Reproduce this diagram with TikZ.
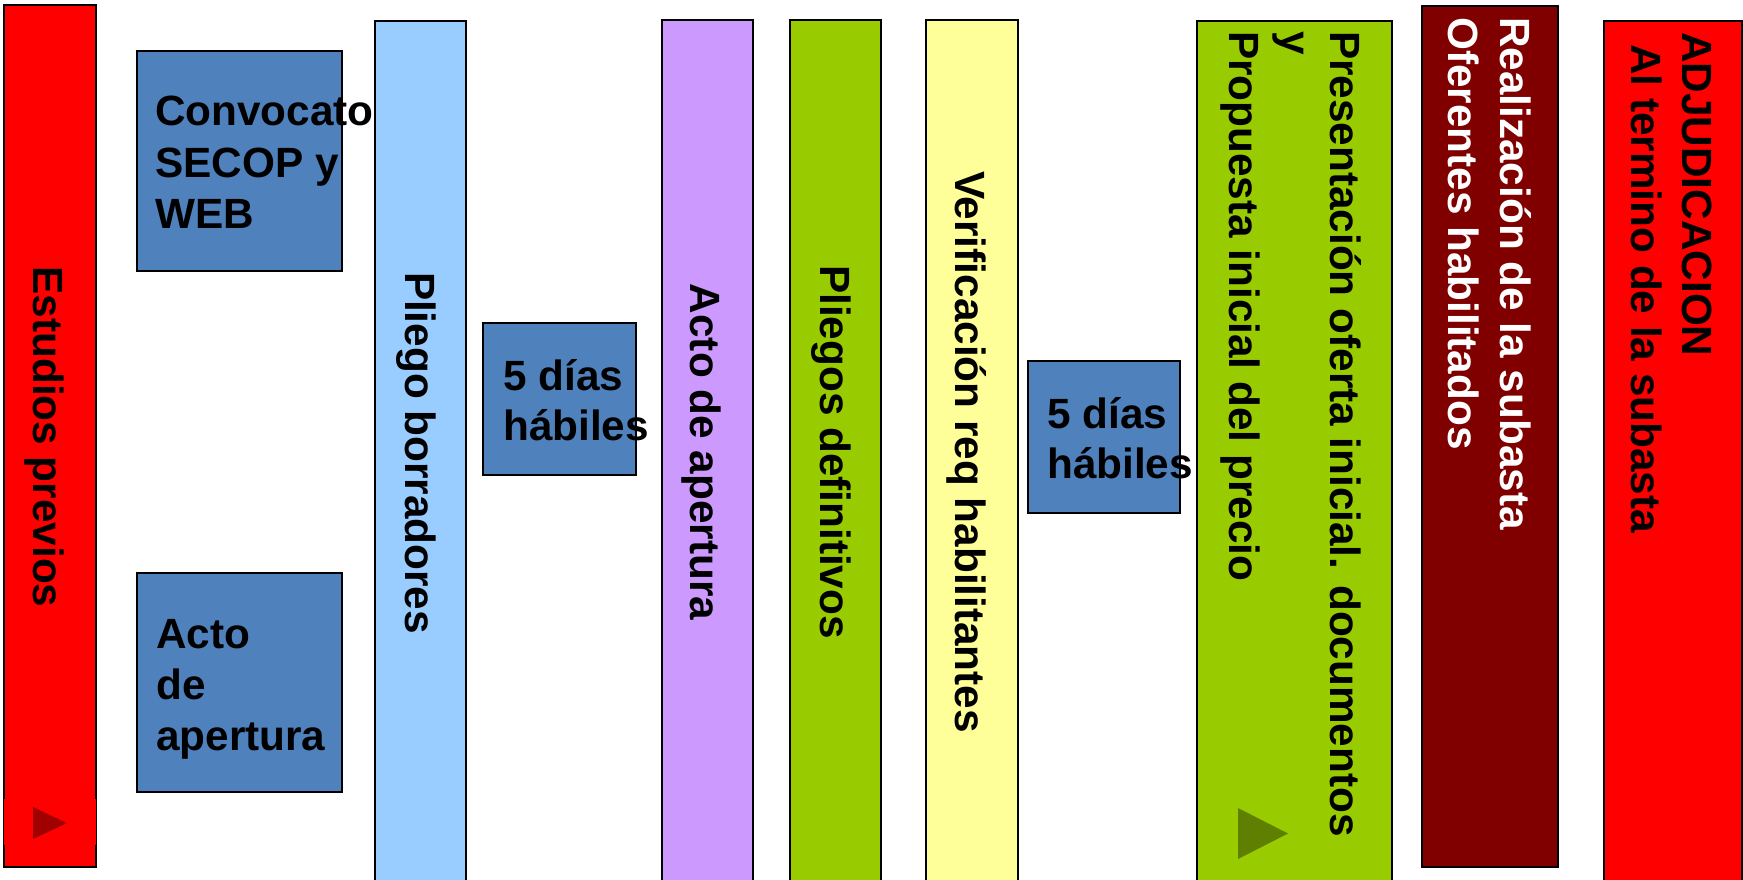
\documentclass[tikz,border=0pt]{standalone}
\usepackage{fontspec}
\setmainfont{Liberation Sans}
\definecolor{stageRed}{HTML}{FF0000}
\definecolor{stageBlue}{HTML}{4F81BD}
\definecolor{stageSky}{HTML}{99CCFF}
\definecolor{stageLilac}{HTML}{CC99FF}
\definecolor{stageGreen}{HTML}{99CC00}
\definecolor{stageYellow}{HTML}{FFFF99}
\definecolor{stageMaroon}{HTML}{800000}
\definecolor{buttonRed}{HTML}{A00000}
\definecolor{buttonOlive}{HTML}{5F7F00}
\newcommand{\stageBar}[5]{%%
  \draw[barStyle,fill=#5] (#1,#2) rectangle (#3,#4);
}
\newcommand{\stageBars}{%%
  %% The tall bars, left to right.
  \stageBar{4}{5}{96}{867}{stageRed}
  \stageBar{375}{21}{466}{885}{stageSky}
  \stageBar{662}{20}{753}{885}{stageLilac}
  \stageBar{790}{20}{881}{885}{stageGreen}
  \stageBar{926}{20}{1018}{885}{stageYellow}
  \stageBar{1197}{21}{1392}{885}{stageGreen}
  \stageBar{1422}{6}{1558}{867}{stageMaroon}
  \stageBar{1604}{21}{1742}{885}{stageRed}
  %% The small blue boxes.
  \stageBar{137}{51}{342}{271}{stageBlue}
  \stageBar{137}{573}{342}{792}{stageBlue}
  \stageBar{483}{323}{636}{475}{stageBlue}
  \stageBar{1028}{361}{1180}{513}{stageBlue}
}
\newcommand{\playButtons}{%%
  \fill[stageRed] (4,799) rectangle (96,845);
  \fill[buttonRed] (33,807) -- (33,839) -- (67,823) -- cycle;
  \fill[buttonOlive] (1238,808) -- (1238,859) -- (1288,833.5) -- cycle;
}
\newcommand{\barLabels}{%%
  %% Labels centred on their bars.
  \node[vlabelStyle,anchor=base] (estudios) at (33,437) {Estudios previos};
  \node[vlabelStyle,anchor=base] (borradores) at (405,453) {Pliego borradores};
  \node[vlabelStyle,anchor=base] (apertura) at (690,452) {Acto de apertura};
  \node[vlabelStyle,anchor=base] (definitivos) at (820,452) {Pliegos definitivos};
  \node[vlabelStyle,anchor=base] (verificacion) at (955,452) {Verificación req habilitantes};
  %% Labels that start at the top of their bars.
  \node[vlabelStyle] (presentacion1) at (1330,31) {Presentación oferta inicial. documentos};
  \node[vlabelStyle] (presentacion2) at (1281,31) {y};
  \node[vlabelStyle] (presentacion3) at (1229,31) {Propuesta inicial del precio};
  \node[vlabelStyle,white] (subasta1) at (1500,17) {Realización de la subasta};
  \node[vlabelStyle,white] (subasta2) at (1448,17) {Oferentes habilitados};
  \node[vlabelStyle] (adjudicacion1) at (1682,32) {ADJUDICACION};
  \node[vlabelStyle] (adjudicacion2) at (1631,44) {Al termino de la subasta};
}
\newcommand{\boxLabels}{%%
  \foreach \txt [count=\i] in {Convocato,SECOP y,WEB}{
    \node[labelStyle] (convocatoria\i) at (155,{126+51*(\i-1)}) {\txt};
  };
  \foreach \txt [count=\i] in {Acto,de,apertura}{
    \node[labelStyle] (actobox\i) at (156,{648+51*(\i-1)}) {\txt};
  };
  \foreach \txt [count=\i] in {5 días,hábiles}{
    \node[labelStyle] (plazoA\i) at (503,{390+50*(\i-1)}) {\txt};
    \node[labelStyle] (plazoB\i) at (1047,{428+50*(\i-1)}) {\txt};
  };
}

\begin{document}
\begin{tikzpicture}[%%
  x=1pt,y=-1pt,%%
  barStyle/.style={draw=black,line width=1.5pt},%%
  labelStyle/.style={anchor=base west,inner sep=0pt,black,%%
    font=\bfseries\fontsize{42.3}{51}\selectfont},%%
  vlabelStyle/.style={labelStyle,rotate=-90}
]
%%
\clip (0,0) rectangle (1743,880);
\useasboundingbox (0,0) rectangle (1743,880);
%%
%% Bars and boxes.
\stageBars
\playButtons
%%
%% The texts.
\barLabels
\boxLabels
\end{tikzpicture}
\end{document}
